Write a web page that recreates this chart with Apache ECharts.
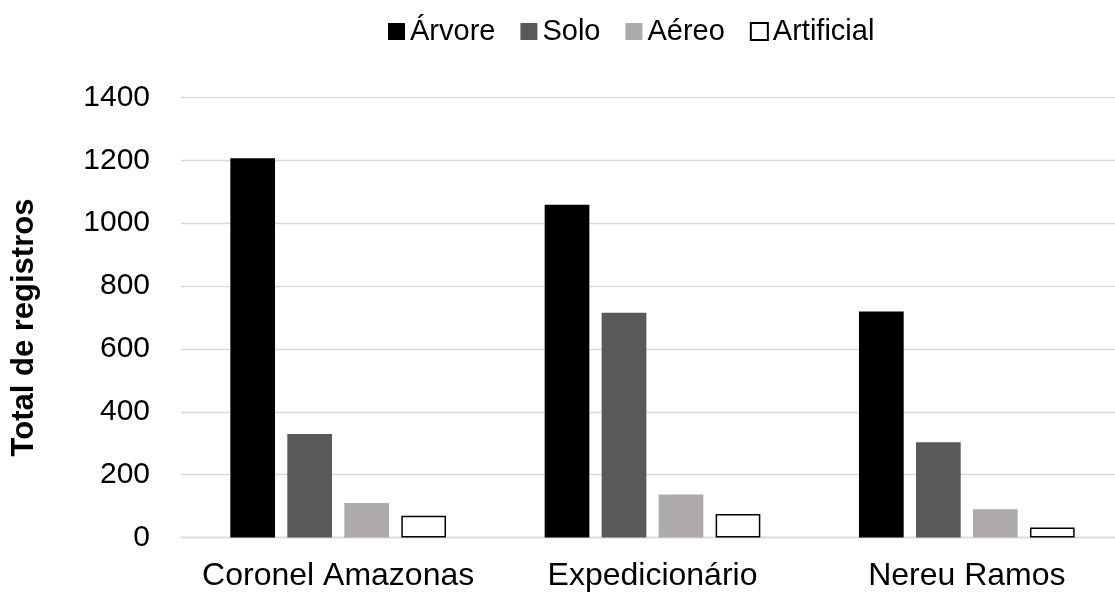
<!DOCTYPE html>
<html>
<head>
<meta charset="utf-8">
<script src="https://cdn.jsdelivr.net/npm/echarts@6/dist/echarts.min.js"></script>
<style>
  html, body { margin: 0; padding: 0; background: #ffffff; }
  #chart { width: 1115px; height: 595px; }
</style>
</head>
<body>
<div id="chart"></div>
<script>
// Locations sampled and the number of records per habitat type
const categories = ['Coronel Amazonas', 'Expedicionário', 'Nereu Ramos'];
const arvore = [1207, 1059, 719];
const solo = [329, 715, 303];
const aereo = [110, 137, 90];
const artificial = [69, 75, 32];

const yMin = 0;
const yMax = 1400;
const yStep = 200;

const FONT = '"Liberation Sans", Arial, sans-serif';

const chart = echarts.init(document.getElementById('chart'), null, { renderer: 'canvas' });

function barSeries(name, data, style) {
  return {
    name: name,
    type: 'bar',
    data: data,
    barWidth: 44.7,
    barGap: '27.5%',
    itemStyle: style,
    emphasis: { disabled: true }
  };
}

chart.setOption({
  animation: false,
  backgroundColor: '#ffffff',
  textStyle: { fontFamily: FONT, color: '#000000' },
  legend: {
    top: 12,
    left: 383,
    itemWidth: 17,
    itemHeight: 17,
    itemGap: 25,
    icon: 'rect',
    textStyle: { fontFamily: FONT, fontSize: 29, color: '#000000' },
    data: ['Árvore', 'Solo', 'Aéreo', 'Artificial']
  },
  grid: {
    left: 181,
    top: 97.5,
    width: 943,
    height: 440,
    containLabel: false,
    outerBoundsMode: 'none'
  },
  xAxis: {
    type: 'category',
    data: categories,
    axisLine: { show: true, lineStyle: { color: '#d9d9d9', width: 1.3 } },
    axisTick: { show: false },
    axisLabel: { fontFamily: FONT, fontSize: 32, color: '#000000', margin: 23, interval: 0, hideOverlap: false },
    splitLine: { show: false }
  },
  yAxis: {
    type: 'value',
    min: yMin,
    max: yMax,
    interval: yStep,
    name: 'Total de registros',
    nameLocation: 'middle',
    nameGap: 141,
    nameTextStyle: { fontFamily: FONT, fontSize: 31, fontWeight: 'bold', color: '#000000', padding: [0, 20, 0, 0] },
    axisLine: { show: false },
    axisTick: { show: false },
    axisLabel: {
      fontFamily: FONT, fontSize: 30, color: '#000000', margin: 31,
      formatter: function (v) { return String(v); }
    },
    splitLine: { show: true, lineStyle: { color: '#d9d9d9', width: 1.3 } }
  },
  series: [
    barSeries('Árvore', arvore, { color: '#000000' }),
    barSeries('Solo', solo, { color: '#595959' }),
    barSeries('Aéreo', aereo, { color: '#aeaaaa' }),
    barSeries('Artificial', artificial, { color: '#ffffff', borderColor: '#000000', borderWidth: 1.5 })
  ]
});
</script>
</body>
</html>
